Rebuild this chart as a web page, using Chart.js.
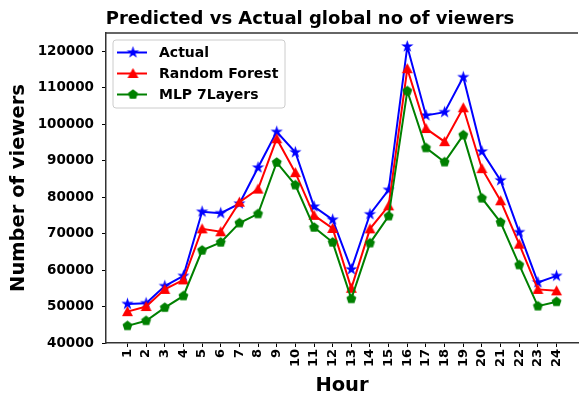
<!DOCTYPE html>
<html lang="en">
<head>
  <meta charset="UTF-8" />
  <title>Predicted vs Actual global no of viewers</title>
  <script src="https://cdn.jsdelivr.net/npm/chart.js"></script>
  <style>
    html, body { margin: 0; padding: 0; background: #fff; overflow: hidden; }
    #wrap { width: 584px; height: 401px; }
  </style>
</head>
<body>
  <div id="wrap"><canvas id="myChart" width="584" height="401"></canvas></div>

  <script>
    // data
    const hours = [1, 2, 3, 4, 5, 6, 7, 8, 9, 10, 11, 12, 13, 14, 15, 16, 17, 18, 19, 20, 21, 22, 23, 24];
    const actual = [50700, 50900, 55600, 58400, 76000, 75600, 78200, 88100, 97900, 92300, 77400, 73800,
                    60200, 75300, 82000, 121300, 102400, 103300, 112900, 92500, 84600, 70400, 56600, 58400];
    const randomForest = [48600, 50000, 54700, 57300, 71300, 70500, 78600, 82200, 96000, 86700, 75000, 71400,
                          55000, 71300, 77600, 115200, 98800, 95200, 104500, 87800, 79000, 67100, 54700, 54300];
    const mlp7 = [44700, 46100, 49700, 52900, 65400, 67600, 72900, 75400, 89500, 83300, 71700, 67600,
                  52100, 67400, 74800, 109100, 93500, 89600, 97000, 79700, 73100, 61400, 50100, 51300];
    const yTicks = [40000, 50000, 60000, 70000, 80000, 90000, 100000, 110000, 120000];

    const FONT = '"DejaVu Sans", sans-serif';

    // filled markers like matplotlib's '*', '^' and 'p'
    function makeMarker(shape, color, r) {
      const size = Math.ceil(2 * r + 2);
      const c = document.createElement('canvas');
      c.width = size; c.height = size;
      const g = c.getContext('2d');
      const cx = size / 2, cy = size / 2;
      g.beginPath();
      if (shape === 'star') {
        for (let i = 0; i < 10; i++) {
          const rr = i % 2 === 0 ? r : r * 0.382;
          const a = -Math.PI / 2 + i * Math.PI / 5;
          g.lineTo(cx + rr * Math.cos(a), cy + rr * Math.sin(a));
        }
      } else if (shape === 'triangle') {
        g.moveTo(cx, cy - r);
        g.lineTo(cx - r, cy + r * 0.8);
        g.lineTo(cx + r, cy + r * 0.8);
      } else {
        for (let i = 0; i < 5; i++) {
          const a = -Math.PI / 2 + i * 2 * Math.PI / 5;
          g.lineTo(cx + r * Math.cos(a), cy + r * Math.sin(a));
        }
      }
      g.closePath();
      g.fillStyle = color;
      g.fill();
      return c;
    }

    const starImg = makeMarker('star', '#0000ff', 6.5);
    const triImg = makeMarker('triangle', '#ff0000', 5.5);
    const pentImg = makeMarker('pentagon', '#008000', 5.2);

    const toPoints = arr => hours.map((h, i) => ({ x: h, y: arr[i] }));

    const series = [
      { label: 'Actual', data: actual, color: '#0000ff', img: starImg, order: 3 },
      { label: 'Random Forest', data: randomForest, color: '#ff0000', img: triImg, order: 2 },
      { label: 'MLP 7Layers', data: mlp7, color: '#008000', img: pentImg, order: 1 }
    ];

    // title, top spine and legend box
    const decorPlugin = {
      id: 'decor',
      afterDraw(chart) {
        const ctx = chart.ctx;
        const a = chart.chartArea;
        ctx.save();
        // top spine
        ctx.strokeStyle = '#333';
        ctx.lineWidth = 1.5;
        ctx.beginPath();
        ctx.moveTo(a.left, a.top);
        ctx.lineTo(a.right, a.top);
        ctx.stroke();

        // title
        ctx.fillStyle = '#000';
        ctx.font = 'bold 18px ' + FONT;
        ctx.textAlign = 'center';
        ctx.textBaseline = 'alphabetic';
        ctx.fillText('Predicted vs Actual global no of viewers', 310, 24);

        // legend
        const bx = 113, by = 40, bw = 172, bh = 68, rad = 3;
        ctx.beginPath();
        ctx.moveTo(bx + rad, by);
        ctx.arcTo(bx + bw, by, bx + bw, by + bh, rad);
        ctx.arcTo(bx + bw, by + bh, bx, by + bh, rad);
        ctx.arcTo(bx, by + bh, bx, by, rad);
        ctx.arcTo(bx, by, bx + bw, by, rad);
        ctx.closePath();
        ctx.fillStyle = 'rgba(255,255,255,0.8)';
        ctx.fill();
        ctx.strokeStyle = '#cccccc';
        ctx.lineWidth = 1;
        ctx.stroke();

        ctx.font = 'bold 14px ' + FONT;
        ctx.textAlign = 'left';
        ctx.textBaseline = 'middle';
        series.forEach((s, i) => {
          const y = 52.5 + i * 21;
          ctx.strokeStyle = s.color;
          ctx.lineWidth = 2;
          ctx.beginPath();
          ctx.moveTo(117, y);
          ctx.lineTo(147, y);
          ctx.stroke();
          ctx.drawImage(s.img, 133 - s.img.width / 2, y - s.img.height / 2);
          ctx.fillStyle = '#000';
          ctx.fillText(s.label, 159, y + 1);
        });
        ctx.restore();
      }
    };

    const ctx = document.getElementById('myChart').getContext('2d');
    const chart = new Chart(ctx, {
      type: 'line',
      data: {
        datasets: series.map(s => ({
          label: s.label,
          data: toPoints(s.data),
          borderColor: s.color,
          backgroundColor: s.color,
          borderWidth: 2,
          tension: 0,
          fill: false,
          pointStyle: s.img,
          order: s.order
        }))
      },
      options: {
        responsive: false,
        animation: false,
        layout: { padding: { top: 33, left: 0, right: 1, bottom: 0 } },
        plugins: {
          legend: { display: false },
          title: { display: false },
          tooltip: { enabled: false }
        },
        scales: {
          x: {
            type: 'linear',
            min: -0.15,
            max: 25.15,
            afterBuildTicks: scale => { scale.ticks = hours.map(v => ({ value: v })); },
            afterFit: scale => { scale.height = 58; },
            ticks: {
              autoSkip: false,
              maxRotation: 90,
              minRotation: 90,
              padding: 2,
              color: '#000',
              font: { family: FONT, size: 13, weight: 'bold' }
            },
            grid: { display: true, drawOnChartArea: false, drawTicks: true, tickLength: 4, color: '#000' },
            border: { display: true, color: '#333', width: 1.5 },
            title: {
              display: true,
              text: 'Hour',
              color: '#000',
              padding: { top: 0, bottom: 3 },
              font: { family: FONT, size: 19.5, weight: 'bold' }
            }
          },
          y: {
            min: 40000,
            max: 125000,
            afterBuildTicks: scale => { scale.ticks = yTicks.map(v => ({ value: v })); },
            afterFit: scale => { scale.width = 106; },
            ticks: {
              padding: 8,
              color: '#000',
              callback: v => String(v),
              font: { family: FONT, size: 13.5, weight: 'bold' }
            },
            grid: { display: true, drawOnChartArea: false, drawTicks: true, tickLength: 4, color: '#000' },
            border: { display: true, color: '#333', width: 1.5 },
            title: {
              display: true,
              text: 'Number of viewers',
              color: '#000',
              padding: { top: 7, bottom: 0 },
              font: { family: FONT, size: 19.5, weight: 'bold' }
            }
          }
        }
      },
      plugins: [decorPlugin]
    });
  </script>
</body>
</html>
